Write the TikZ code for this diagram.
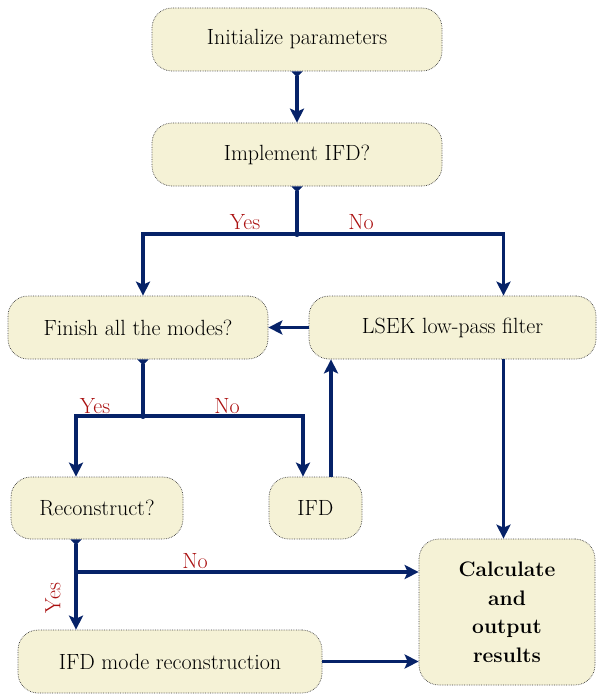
\documentclass[tikz,border=0pt]{standalone}
\usepackage{fontspec}
\usetikzlibrary{arrows.meta,calc}
\definecolor{boxfill}{RGB}{245,242,214}
\definecolor{navyline}{RGB}{6,34,104}
\definecolor{lblred}{RGB}{170,16,16}
\begin{document}
\begin{tikzpicture}[x=1pt,y=-1pt,
  box/.style={draw=black!75, densely dotted, line width=0.7pt, fill=boxfill,
    rounded corners=20pt, inner sep=0pt, align=center, text=black,
    font=\fontsize{22}{28}\selectfont},
  conn/.style={draw=navyline, line width=3.2pt,
    -{Stealth[length=14pt,width=14pt,inset=3pt]}},
  sconn/.style={conn, {Triangle[reversed,length=6pt,width=11pt]}-{Stealth[length=14pt,width=14pt,inset=3pt]}},
  stail/.style={draw=navyline, line width=3.2pt, {Triangle[reversed,length=6pt,width=11pt]}-},
  lbl/.style={text=lblred, font=\fontsize{22}{24}\selectfont, inner sep=0pt}]
\useasboundingbox (0,0) rectangle (597,695);

\node[box, minimum width=290pt, minimum height=63pt] (init) at (297,39.5) {Initialize parameters};
\node[box, minimum width=290pt, minimum height=63pt] (impl) at (297,154.5) {Implement IFD?};
\node[box, minimum width=260pt, minimum height=63pt] (finish) at (138,327.5) {Finish all the modes?};
\node[box, minimum width=287pt, minimum height=63pt] (lsek) at (452.5,327.5) {LSEK low-pass filter};
\node[box, minimum width=172pt, minimum height=62pt] (recon) at (97,508) {Reconstruct?};
\node[box, minimum width=93pt, minimum height=62pt] (ifd) at (315.5,508) {IFD};
\node[box, minimum width=176pt, minimum height=146pt, font=\fontsize{21}{28.5}\selectfont\bfseries] (calc) at (507,612) {Calculate\\and\\output\\results};
\node[box, minimum width=304pt, minimum height=63pt] (ifdrec) at (170,661.5) {IFD mode reconstruction};

% init -> impl
\draw[sconn] (init.south) -- (impl.north);

% impl split
\coordinate (j1) at (297,234);
\draw[stail] (impl.south) -- (j1);
\fill[navyline] (j1) circle (3pt);
\draw[conn] (j1) -| ([xshift=5pt]finish.north);
\draw[conn] (j1) -| ([xshift=51pt]lsek.north);
\node[lbl] (y1) at (245,222) {Yes};
\node[lbl] (n1) at (361,222) {No};

% lsek -> finish
\draw[conn] (lsek.west) -- (finish.east);

% finish split
\coordinate (j2) at (143,416);
\draw[stail] ([xshift=5pt]finish.south) -- (j2);
\fill[navyline] (j2) circle (3pt);
\draw[conn] (j2) -| ([xshift=-21pt]recon.north);
\draw[conn] (j2) -| ([xshift=-12.5pt]ifd.north);
\node[lbl] (y2) at (95,406) {Yes};
\node[lbl] (n2) at (227,406) {No};

% ifd -> lsek
\draw[conn] ([xshift=15.5pt]ifd.north) -- ([xshift=15.5pt]ifd.north |- lsek.south);

% lsek -> calc
\draw[conn] ([xshift=51pt]lsek.south) -- ([xshift=51pt]lsek.south |- calc.north);

% recon -> ifdrec / calc
\coordinate (j3) at (76,572);
\draw[sconn] ([xshift=-21pt]recon.south) -- ([xshift=-21pt]recon.south |- ifdrec.north);
\draw[conn] (j3) -- (j3 -| calc.west);
\node[lbl] (n3) at (195,561) {No};
\node[lbl, rotate=90] (y3) at (53,598) {Yes};

% ifdrec -> calc
\draw[conn] (ifdrec.east) -- (ifdrec.east -| calc.west);
\end{tikzpicture}
\end{document}
